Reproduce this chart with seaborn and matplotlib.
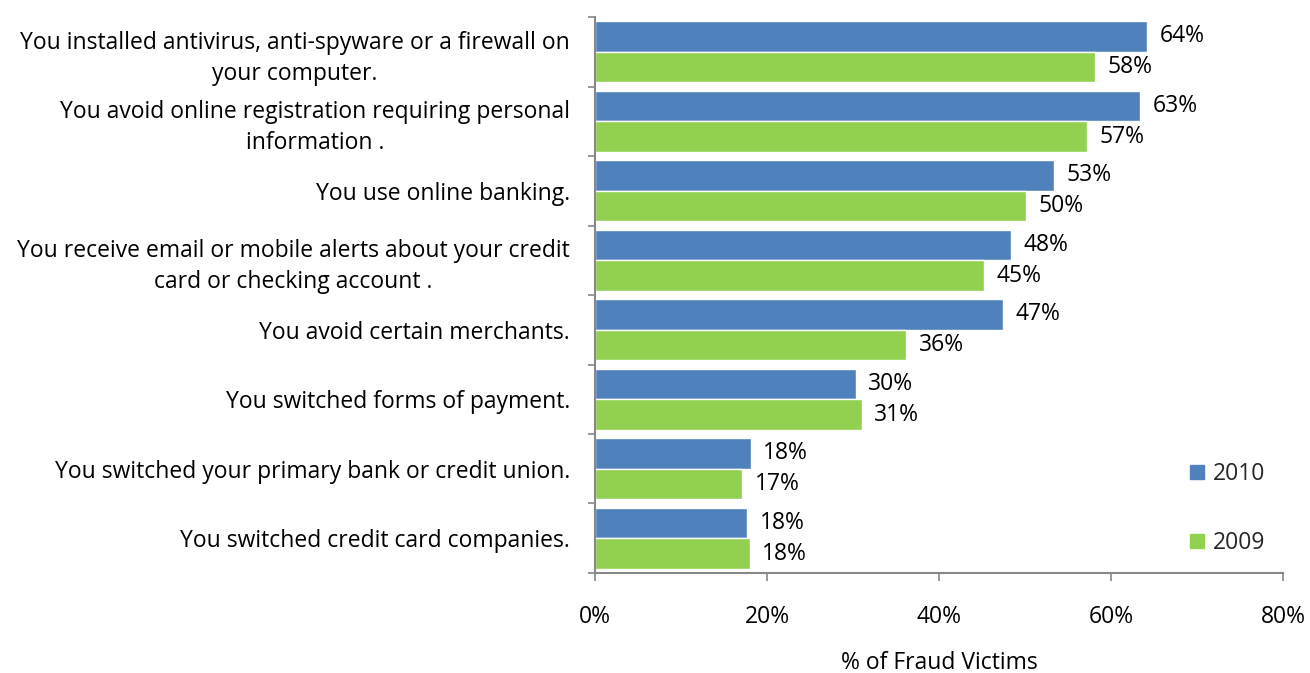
import matplotlib
matplotlib.use("Agg")
import matplotlib.pyplot as plt
import matplotlib.patches as mpatches
from matplotlib.ticker import FixedLocator, PercentFormatter
import seaborn as sns
import pandas as pd

categories = [
    "You installed antivirus, anti-spyware or a firewall on\nyour computer.",
    "You avoid online registration requiring personal\ninformation .",
    "You use online banking.",
    "You receive email or mobile alerts about your credit\ncard or checking account .",
    "You avoid certain merchants.",
    "You switched forms of payment.",
    "You switched your primary bank or credit union.",
    "You switched credit card companies.",
]
values_2010 = [64.2, 63.4, 53.4, 48.4, 47.4, 30.3, 18.1, 17.7]
values_2009 = [58.1, 57.2, 50.1, 45.2, 36.2, 31.0, 17.1, 18.0]
years = ["2010", "2009"]
colors = {"2010": "#4F81BD", "2009": "#92D050"}
x_ticks = [0, 20, 40, 60, 80]

df = pd.DataFrame({
    "category": categories * 2,
    "year": [years[0]] * len(categories) + [years[1]] * len(categories),
    "value": values_2010 + values_2009,
})

sns.set_theme(style="white")
plt.rcParams["font.family"] = ["Open Sans", "DejaVu Sans"]
FS = 16.5

fig = plt.figure(figsize=(13.1, 6.73), dpi=100)
ax = fig.add_axes([0.4542, 0.1486, 0.5252, 0.8261])

sns.barplot(data=df, y="category", x="value", hue="year", orient="h",
            palette=colors, width=0.88, saturation=1, ax=ax, legend=False,
            errorbar=None)

for cont in ax.containers:
    ax.bar_label(cont, labels=[f"{v:.0f}%" for v in cont.datavalues],
                 padding=9, fontsize=FS, color="black")

ax.set_xlim(0, 80)
ax.set_ylim(len(categories) - 0.5, -0.5)
ax.xaxis.set_major_locator(FixedLocator(x_ticks))
ax.xaxis.set_major_formatter(PercentFormatter(decimals=0))
ax.yaxis.set_minor_locator(FixedLocator([i - 0.5 for i in range(len(categories) + 1)]))

ax.tick_params(axis="x", which="major", direction="out", length=6, width=1.2,
               color="#888888", pad=17, labelsize=FS, labelcolor="black", bottom=True)
ax.tick_params(axis="y", which="major", length=0, pad=18, labelsize=FS,
               labelcolor="black")
ax.tick_params(axis="y", which="minor", direction="out", length=5, width=1.2,
               color="#888888", left=True)
for lbl in ax.get_yticklabels():
    lbl.set_multialignment("center")
    lbl.set_linespacing(1.4)

for side in ["top", "right"]:
    ax.spines[side].set_visible(False)
for side in ["left", "bottom"]:
    ax.spines[side].set_color("#888888")
    ax.spines[side].set_linewidth(1.5)

ax.set_ylabel("")
ax.set_xlabel("% of Fraud Victims", fontsize=FS, color="black", labelpad=16)

handles = [mpatches.Patch(color=colors[y], label=y) for y in years]
fig.legend(handles=handles, loc="upper left", bbox_to_anchor=(0.893, 0.344),
           frameon=False, fontsize=FS, handlelength=0.6, handleheight=0.6,
           handletextpad=0.4, labelspacing=1.97)

fig.savefig("out.png", dpi=100)
